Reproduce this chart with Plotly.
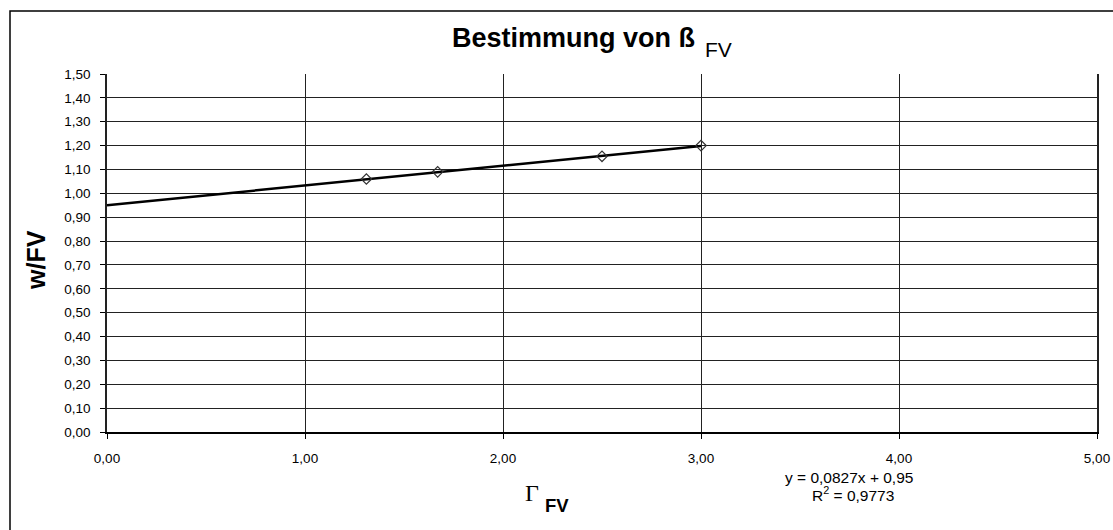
import plotly.graph_objects as go

# Data
gamma_fv = [1.31, 1.67, 2.50, 3.00]
w_fv = [1.06, 1.09, 1.155, 1.20]

# Linear trendline (as displayed on the chart)
trend_slope = 0.0827
trend_intercept = 0.95
trend_x = [0.0, 3.0]
trend_y = [trend_slope * x + trend_intercept for x in trend_x]

x_ticks = [0, 1, 2, 3, 4, 5]
x_ticklabels = ["0,00", "1,00", "2,00", "3,00", "4,00", "5,00"]
y_ticks = [round(i * 0.1, 2) for i in range(16)]
y_ticklabels = [f"{v:.2f}".replace(".", ",") for v in y_ticks]

FONT = "Liberation Sans, Arial, sans-serif"

fig = go.Figure()
fig.add_trace(go.Scatter(
    x=trend_x, y=trend_y, mode="lines",
    line=dict(color="black", width=2.5),
    showlegend=False, hoverinfo="skip",
))
fig.add_trace(go.Scatter(
    x=gamma_fv, y=w_fv, mode="markers",
    marker=dict(symbol="diamond-open", size=8, color="#333333",
                line=dict(width=1.2, color="#333333")),
    showlegend=False,
))

W, H = 1113, 530
L, R, T, B = 107, 16, 74, 98
pw, ph = W - L - R, H - T - B

def px(xpix):
    return (xpix - L) / pw

def py(ypix):
    return (H - B - ypix) / ph

fig.update_layout(
    width=W, height=H, autosize=False,
    margin=dict(l=L, r=R, t=T, b=B, pad=0, autoexpand=False),
    paper_bgcolor="white", plot_bgcolor="white",
    font=dict(family=FONT, color="black", size=13),
    xaxis=dict(
        range=[0, 5], tickvals=x_ticks, ticktext=x_ticklabels,
        showgrid=True, gridcolor="#222222", gridwidth=1,
        showline=True, linecolor="black", linewidth=2,
        ticks="outside", ticklen=5, tickcolor="black",
        ticklabelstandoff=8, automargin=False,
        zeroline=False, fixedrange=True,
        tickfont=dict(size=13.5),
    ),
    yaxis=dict(
        range=[0, 1.5], tickvals=y_ticks, ticktext=y_ticklabels,
        showgrid=True, gridcolor="#222222", gridwidth=1,
        showline=True, linecolor="#222222", linewidth=1.5, mirror=True,
        ticks="outside", ticklen=5, tickcolor="black", automargin=False,
        ticklabelstandoff=7,
        zeroline=False, fixedrange=True,
        tickfont=dict(size=13.5),
    ),
    shapes=[dict(
        type="rect", xref="paper", yref="paper",
        x0=px(10), x1=px(1125), y0=py(540), y1=py(11),
        line=dict(color="black", width=1.5), fillcolor="rgba(0,0,0,0)",
        layer="below",
    )],
    annotations=[
        dict(text="<b>Bestimmung von ß</b>", xref="paper", yref="paper",
             x=px(697), y=py(55), xanchor="right", yanchor="bottom",
             showarrow=False, font=dict(size=27, family=FONT)),
        dict(text="FV", xref="paper", yref="paper",
             x=px(703), y=py(63), xanchor="left", yanchor="bottom",
             showarrow=False, font=dict(size=21, family=FONT)),
        dict(text="<b>w/FV</b>", xref="paper", yref="paper",
             x=px(36), y=py(260), xanchor="center", yanchor="middle",
             textangle=-90, showarrow=False, font=dict(size=25, family=FONT)),
        dict(text="Γ", xref="paper", yref="paper",
             x=px(541), y=py(508), xanchor="right", yanchor="bottom",
             showarrow=False,
             font=dict(size=24, family="Liberation Serif, Times New Roman, serif")),
        dict(text="<b>FV</b>", xref="paper", yref="paper",
             x=px(543), y=py(518), xanchor="left", yanchor="bottom",
             showarrow=False, font=dict(size=18.5, family=FONT)),
        dict(text="y = 0,0827x + 0,95", xref="paper", yref="paper",
             x=px(849), y=py(477), xanchor="center", yanchor="middle",
             showarrow=False, font=dict(size=15.5, family=FONT)),
        dict(text="R<sup>2</sup> = 0,9773", xref="paper", yref="paper",
             x=px(853), y=py(494), xanchor="center", yanchor="middle",
             showarrow=False, font=dict(size=15.5, family=FONT)),
    ],
)

fig.write_html(
    "out.html",
    config={"displayModeBar": False},
    post_script="document.body.style.margin='0';document.body.style.padding='0';",
)
